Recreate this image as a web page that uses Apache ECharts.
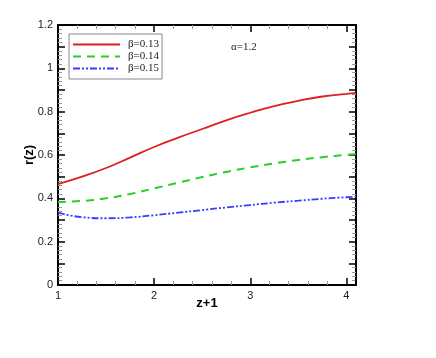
<!DOCTYPE html>
<html>
<head>
<meta charset="utf-8">
<script src="https://cdn.jsdelivr.net/npm/echarts@6/dist/echarts.min.js"></script>
<style>
  html, body { margin: 0; padding: 0; background: #fff; }
  #chart { width: 436px; height: 358px; }
</style>
</head>
<body>
<div id="chart"></div>
<script>
// z+1 sample points
const zPlusOne = [1.0, 1.25, 1.5, 1.75, 2.0, 2.25, 2.5, 2.75, 3.0, 3.25, 3.5, 3.75, 4.0, 4.1];
// r(z) for each beta
const rBeta013 = [0.466, 0.50, 0.54, 0.588, 0.637, 0.68, 0.72, 0.76, 0.795, 0.826, 0.85, 0.87, 0.882, 0.887];
const rBeta014 = [0.383, 0.388, 0.40, 0.42, 0.446, 0.472, 0.498, 0.522, 0.543, 0.561, 0.577, 0.59, 0.601, 0.605];
const rBeta015 = [0.334, 0.313, 0.308, 0.312, 0.322, 0.334, 0.346, 0.358, 0.369, 0.38, 0.389, 0.398, 0.405, 0.407];
const seriesNames = ['β=0.13', 'β=0.14', 'β=0.15'];
const yTickLabels = ['0', '0.2', '0.4', '0.6', '0.8', '1', '1.2'];

const chart = echarts.init(document.getElementById('chart'));

function pairs(ys) {
  return zPlusOne.map((x, i) => [x, ys[i]]);
}

const tickFont = { color: '#222', fontSize: 11, fontFamily: 'Liberation Sans' };

const baseX = {
  type: 'value', min: 1, max: 4.1, interval: 1,
  axisLine: { onZero: false, lineStyle: { color: '#000', width: 2 } },
  axisTick: { inside: true, length: 7, lineStyle: { color: '#000', width: 1.5 } },
  minorTick: { show: true, splitNumber: 5, length: 4, lineStyle: { color: '#999' } },
  splitLine: { show: false }
};
const baseY = {
  type: 'value', min: 0, max: 1.2, interval: 0.1,
  axisLine: { onZero: false, lineStyle: { color: '#000', width: 2 } },
  axisTick: { inside: true, length: 7, lineStyle: { color: '#000', width: 1.5 } },
  minorTick: { show: true, splitNumber: 5, length: 4, lineStyle: { color: '#999' } },
  splitLine: { show: false }
};

const option = {
  animation: false,
  backgroundColor: '#fff',
  grid: { left: 58, top: 25, right: 80, bottom: 73 },
  legend: {
    orient: 'vertical',
    left: 69, top: 34,
    padding: [5, 3, 5, 3],
    itemGap: 1,
    itemWidth: 47,
    itemHeight: 12,
    borderColor: '#888',
    borderWidth: 1,
    // hide the marker circle, keep the line sample
    itemStyle: { opacity: 0 },
    textStyle: { fontFamily: 'Liberation Serif', fontSize: 11, color: '#222', padding: [0, 0, 0, 3] },
    data: seriesNames
  },
  graphic: [{
    type: 'text', left: 231, top: 42,
    style: { text: 'α=1.2', font: '11px "Liberation Serif"', fill: '#222' }
  }],
  xAxis: [
    Object.assign({}, baseX, {
      position: 'bottom',
      name: 'z+1', nameLocation: 'middle', nameGap: 12, nameMoveOverlap: false,
      nameTextStyle: { fontFamily: 'Liberation Sans', fontWeight: 'bold', fontSize: 13, color: '#000' },
      axisLabel: Object.assign({ margin: 5, showMaxLabel: false,
        formatter: v => (Number.isInteger(v) ? String(v) : '') }, tickFont)
    }),
    Object.assign({}, baseX, { position: 'top', axisLabel: { show: false } })
  ],
  yAxis: [
    Object.assign({}, baseY, {
      position: 'left',
      name: 'r(z)', nameLocation: 'middle', nameGap: 22, nameRotate: 90, nameMoveOverlap: false,
      nameTextStyle: { fontFamily: 'Liberation Sans', fontWeight: 'bold', fontSize: 13, color: '#000' },
      axisLabel: Object.assign({ margin: 5,
        formatter: v => {
          const k = Math.round(v * 10);
          return k % 2 === 0 ? yTickLabels[k / 2] : '';
        } }, tickFont)
    }),
    Object.assign({}, baseY, { position: 'right', axisLabel: { show: false } })
  ],
  series: [
    {
      name: seriesNames[0], type: 'line', smooth: true, symbol: 'none',
      data: pairs(rBeta013),
      itemStyle: { color: '#dd1f1f' },
      lineStyle: { color: '#dd1f1f', width: 1.8, type: 'solid' }
    },
    {
      name: seriesNames[1], type: 'line', smooth: true, symbol: 'none',
      data: pairs(rBeta014),
      itemStyle: { color: '#2ccc2c' },
      lineStyle: { color: '#2ccc2c', width: 2, type: [8, 6] }
    },
    {
      name: seriesNames[2], type: 'line', smooth: true, symbol: 'none',
      data: pairs(rBeta015),
      itemStyle: { color: '#3b3bff' },
      lineStyle: { color: '#3b3bff', width: 1.8, type: [7, 2, 2, 2, 2, 2] }
    }
  ]
};

chart.setOption(option);
</script>
</body>
</html>
